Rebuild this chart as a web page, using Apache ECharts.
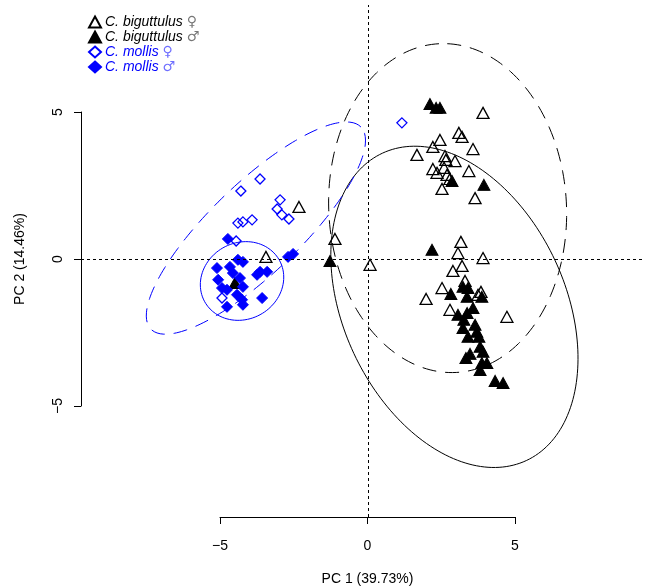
<!DOCTYPE html>
<html lang="en">
<head>
<meta charset="UTF-8">
<title>PCA</title>
<script src="https://cdn.jsdelivr.net/npm/echarts@6/dist/echarts.min.js"></script>
<style>
    body { margin: 0; }
    #root { width: 645px; height: 587px; }
</style>
</head>
<body>
<div id="root"></div>
<script>
// scores, [PC1, PC2]
var bigFemale = [
    [3.90, 4.97], [2.44, 4.05], [3.08, 4.29], [3.19, 4.15], [3.56, 3.74], [2.20, 3.81],
    [1.66, 3.54], [2.61, 3.50], [2.64, 3.37], [2.95, 3.33], [2.20, 3.06], [2.58, 3.10],
    [2.34, 2.93], [2.68, 2.86], [3.42, 2.99], [2.78, 2.72], [2.51, 2.38], [3.63, 2.07],
    [3.15, 0.58], [3.05, 0.20], [3.90, 0.03], [3.19, -0.24], [2.88, -0.41], [3.29, -0.75],
    [2.51, -0.99], [1.97, -1.36], [3.83, -1.12], [3.73, -1.22], [2.78, -1.73], [4.71, -1.97],
    [-1.12, 0.68], [0.07, -0.20], [-2.34, 1.77], [-3.46, 0.07]
];
var bigMale = [
    [2.10, 5.27], [2.31, 5.14], [2.44, 5.14], [2.85, 2.65], [3.93, 2.52], [2.17, 0.31],
    [3.22, -0.95], [3.39, -0.99], [2.81, -1.19], [3.86, -1.29], [3.36, -1.29], [3.56, -1.67],
    [3.05, -1.90], [3.36, -1.84], [3.25, -2.07], [3.63, -2.24], [3.22, -2.35], [3.69, -2.48],
    [3.39, -2.65], [3.76, -2.65], [3.80, -2.99], [3.90, -3.16], [3.46, -3.23], [3.32, -3.37],
    [3.86, -3.54], [4.03, -3.54], [3.80, -3.78], [4.31, -4.15], [4.58, -4.22],
    [-1.29, -0.07], [-4.51, -0.82]
];
var molFemale = [
    [1.15, 4.63], [-3.66, 2.72], [-4.31, 2.31], [-2.98, 2.01], [-3.08, 1.70], [-2.92, 1.50],
    [-2.68, 1.36], [-3.93, 1.33], [-4.41, 1.22], [-4.24, 1.26], [-4.47, 0.61], [-4.95, -1.33]
];
var molMale = [
    [-4.75, 0.68], [-2.71, 0.07], [-2.54, 0.17], [-4.24, -0.10], [-4.41, -0.03], [-3.66, -0.44],
    [-3.42, -0.44], [-5.12, -0.31], [-4.68, -0.27], [-4.58, -0.48], [-5.08, -0.71], [-4.95, -0.99],
    [-4.34, -0.65], [-4.24, -0.95], [-4.78, -1.05], [-3.76, -0.54], [-3.59, -1.33], [-4.44, -1.22],
    [-4.27, -1.39], [-4.24, -1.56], [-4.78, -1.63]
];

// confidence ellipses: centre, semi axes, rotation (deg)
var ellBigFemale = { cx: 2.70, cy: 1.73, a: 5.6, b: 4.03, angle: 93 };
var ellBigMale = { cx: 2.93, cy: -1.63, a: 5.77, b: 3.76, angle: -65 };
var ellMolFemale = { cx: -3.80, cy: 1.05, a: 4.95, b: 1.53, angle: 44 };
var ellMolMale = { cx: -4.27, cy: -0.75, a: 1.45, b: 1.3, angle: 30 };

var seriesNames = ['C. biguttulus \u2640', 'C. biguttulus \u2642', 'C. mollis \u2640', 'C. mollis \u2642'];
var xTicks = [-5, 0, 5];
var yTicks = [-5, 0, 5];

var blue = '#0000ff';
var font = 'Liberation Sans, Arial, sans-serif';

function outline(e) {
    var pts = [];
    var phi = e.angle * Math.PI / 180;
    for (var i = 0; i <= 200; i++) {
        var t = i / 200 * 2 * Math.PI;
        var u = e.a * Math.cos(t), v = e.b * Math.sin(t);
        pts.push([e.cx + u * Math.cos(phi) - v * Math.sin(phi), e.cy + u * Math.sin(phi) + v * Math.cos(phi)]);
    }
    return pts;
}

function ellSeries(e, color, dashed) {
    return {
        type: 'line', data: outline(e), showSymbol: false, silent: true, z: 1,
        lineStyle: { color: color, width: 1, type: dashed ? [14, 9] : 'solid' }
    };
}

function minus(v) { return String(v).replace('-', '\u2212'); }

var chart = echarts.init(document.getElementById('root'));

chart.setOption({
    backgroundColor: '#fff',
    animation: false,
    textStyle: { fontFamily: font },
    grid: [
        { left: 81, right: 3, top: 5, bottom: 70 },
        { left: 220, width: 295, top: 516, height: 1 },
        { left: 81, width: 1, top: 112, height: 294 }
    ],
    xAxis: [
        { gridIndex: 0, type: 'value', min: -9.73, max: 9.29, show: false },
        {
            gridIndex: 1, type: 'value', min: -5, max: 5, interval: 5,
            axisLine: { show: true, onZero: false, lineStyle: { color: '#000' } },
            axisTick: { show: true, length: 7, lineStyle: { color: '#000' } },
            axisLabel: { fontSize: 14, color: '#000', margin: 22, formatter: minus },
            splitLine: { show: false },
            name: 'PC 1 (39.73%)', nameLocation: 'middle', nameGap: 55,
            nameTextStyle: { fontSize: 14, color: '#000' }
        },
        { gridIndex: 2, type: 'value', show: false }
    ],
    yAxis: [
        { gridIndex: 0, type: 'value', min: -8.78, max: 8.64, show: false },
        { gridIndex: 1, type: 'value', show: false },
        {
            gridIndex: 2, type: 'value', min: -5, max: 5, interval: 5,
            axisLine: { show: true, onZero: false, lineStyle: { color: '#000' } },
            axisTick: { show: true, length: 7, lineStyle: { color: '#000' } },
            axisLabel: { fontSize: 14, color: '#000', margin: 16, rotate: 90, formatter: minus },
            splitLine: { show: false },
            name: 'PC 2 (14.46%)', nameLocation: 'middle', nameGap: 54, nameRotate: 90,
            nameTextStyle: { fontSize: 14, color: '#000' }
        }
    ],
    legend: {
        orient: 'vertical', left: 83, top: 10, itemWidth: 12, itemHeight: 11, itemGap: 1,
        selectedMode: false,
        data: [
            { name: seriesNames[0], textStyle: { color: '#000' } },
            { name: seriesNames[1], textStyle: { color: '#000' } },
            { name: seriesNames[2], textStyle: { color: blue } },
            { name: seriesNames[3], textStyle: { color: blue } }
        ],
        formatter: function (name) {
            var parts = name.split(' ');
            var sym = parts.pop();
            var key = name.indexOf('mollis') >= 0 ? 'sb' : 'sk';
            return '{i|' + parts.join(' ') + '} {' + key + '|' + sym + '}';
        },
        textStyle: {
            fontSize: 14, fontFamily: font, padding: [0, 0, 0, -1],
            rich: {
                i: { fontStyle: 'italic', fontSize: 14, fontFamily: font, lineHeight: 15 },
                sk: { color: '#777', fontSize: 14, fontFamily: 'DejaVu Sans', lineHeight: 15 },
                sb: { color: '#6f6fff', fontSize: 14, fontFamily: 'DejaVu Sans', lineHeight: 15 }
            }
        }
    },
    series: [
        ellSeries(ellBigFemale, '#000', true),
        ellSeries(ellBigMale, '#000', false),
        ellSeries(ellMolFemale, blue, true),
        ellSeries(ellMolMale, blue, false),
        {
            name: seriesNames[0], type: 'scatter', data: bigFemale, symbol: 'triangle', symbolSize: [12, 11], z: 3,
            itemStyle: { color: 'rgba(0,0,0,0)', borderColor: '#000', borderWidth: 1.3, opacity: 1 },
            markLine: {
                silent: true, symbol: 'none', label: { show: false },
                lineStyle: { color: '#000', type: [3, 3], width: 1 },
                data: [{ xAxis: 0 }, { yAxis: 0 }]
            }
        },
        {
            name: seriesNames[1], type: 'scatter', data: bigMale, symbol: 'triangle', symbolSize: [12, 11], z: 3,
            itemStyle: { color: '#000', borderColor: '#000', borderWidth: 1, opacity: 1 }
        },
        {
            name: seriesNames[2], type: 'scatter', data: molFemale, symbol: 'diamond', symbolSize: [10, 10], z: 3,
            itemStyle: { color: 'rgba(0,0,0,0)', borderColor: blue, borderWidth: 1.3, opacity: 1 }
        },
        {
            name: seriesNames[3], type: 'scatter', data: molMale, symbol: 'diamond', symbolSize: [11, 11], z: 3,
            itemStyle: { color: blue, borderColor: blue, borderWidth: 1, opacity: 1 }
        }
    ]
});
</script>
</body>
</html>
